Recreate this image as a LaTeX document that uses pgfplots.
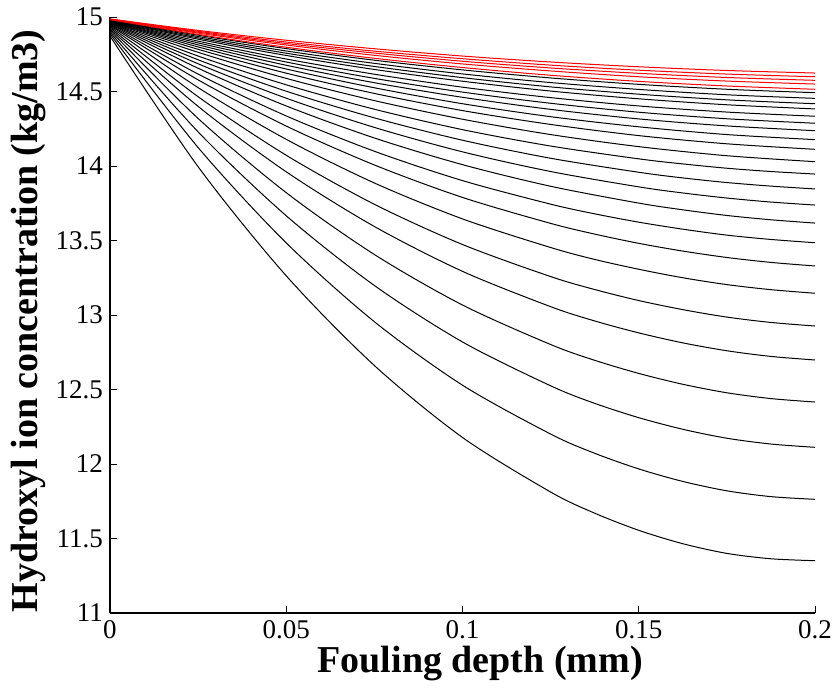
\documentclass[border=0pt]{standalone}
\usepackage{fontspec}
\setmainfont{Liberation Serif}
\usepackage{pgfplots}
\pgfplotsset{compat=1.18}
\begin{document}
\begin{tikzpicture}
\begin{axis}[
  scale only axis, width=352.5pt, height=298pt,
  xmin=0, xmax=0.2, ymin=11, ymax=15,
  axis x line*=bottom, axis y line*=left,
  axis line style={-, line width=0.6pt},
  xtick={0,0.05,0.1,0.15,0.2}, xticklabels={0,0.05,0.1,0.15,0.2},
  ytick={11,11.5,12,12.5,13,13.5,14,14.5,15},
  yticklabels={11,11.5,12,12.5,13,13.5,14,14.5,15},
  tick align=inside, major tick length=3.5pt,
  tick style={line width=0.5pt, black},
  ticklabel style={font=\fontsize{13.5}{15}\selectfont},
  xlabel={Fouling depth (mm)},
  ylabel={Hydroxyl ion concentration (kg/m3)},
  label style={font=\fontsize{19}{22}\selectfont\bfseries},
  xlabel style={at={(axis description cs:0.525,-0.084)}, anchor=center},
  ylabel style={at={(axis description cs:-0.116,0.49)}, anchor=center},
  every axis plot/.append style={line width=0.5pt, no marks, smooth},
]
% black curves
\addplot[black] coordinates {(0,14.982)(0.025,14.878)(0.05,14.788)(0.075,14.710)(0.1,14.645)(0.125,14.591)(0.15,14.548)(0.175,14.515)(0.2,14.492)};
\addplot[black] coordinates {(0,14.981)(0.025,14.869)(0.05,14.772)(0.075,14.689)(0.1,14.618)(0.125,14.560)(0.15,14.514)(0.175,14.478)(0.2,14.454)};
\addplot[black] coordinates {(0,14.980)(0.025,14.860)(0.05,14.757)(0.075,14.668)(0.1,14.593)(0.125,14.531)(0.15,14.482)(0.175,14.444)(0.2,14.418)};
\addplot[black] coordinates {(0,14.978)(0.025,14.851)(0.05,14.742)(0.075,14.648)(0.1,14.569)(0.125,14.503)(0.15,14.451)(0.175,14.411)(0.2,14.383)};
\addplot[black] coordinates {(0,14.977)(0.025,14.838)(0.05,14.718)(0.075,14.616)(0.1,14.529)(0.125,14.459)(0.15,14.403)(0.175,14.362)(0.2,14.334)};
\addplot[black] coordinates {(0,14.975)(0.025,14.826)(0.05,14.698)(0.075,14.588)(0.1,14.496)(0.125,14.421)(0.15,14.361)(0.175,14.317)(0.2,14.287)};
\addplot[black] coordinates {(0,14.973)(0.025,14.813)(0.05,14.676)(0.075,14.559)(0.1,14.461)(0.125,14.380)(0.15,14.316)(0.175,14.269)(0.2,14.237)};
\addplot[black] coordinates {(0,14.971)(0.025,14.799)(0.05,14.651)(0.075,14.525)(0.1,14.418)(0.125,14.331)(0.15,14.263)(0.175,14.211)(0.2,14.177)};
\addplot[black] coordinates {(0,14.969)(0.025,14.783)(0.05,14.623)(0.075,14.487)(0.1,14.372)(0.125,14.279)(0.15,14.204)(0.175,14.149)(0.2,14.112)};
\addplot[black] coordinates {(0,14.966)(0.025,14.763)(0.05,14.588)(0.075,14.439)(0.1,14.314)(0.125,14.211)(0.15,14.130)(0.175,14.069)(0.2,14.029)};
\addplot[black] coordinates {(0,14.963)(0.025,14.738)(0.05,14.545)(0.075,14.381)(0.1,14.244)(0.125,14.134)(0.15,14.048)(0.1625,14.014)(0.175,13.985)(0.1875,13.963)(0.2,13.946)};
\addplot[black] coordinates {(0,14.960)(0.025,14.713)(0.05,14.502)(0.075,14.323)(0.1,14.173)(0.125,14.052)(0.15,13.958)(0.1625,13.920)(0.175,13.889)(0.1875,13.865)(0.2,13.846)};
\addplot[black] coordinates {(0,14.956)(0.025,14.686)(0.05,14.455)(0.075,14.259)(0.1,14.095)(0.125,13.963)(0.15,13.860)(0.1625,13.819)(0.175,13.785)(0.1875,13.758)(0.2,13.738)};
\addplot[black] coordinates {(0,14.952)(0.025,14.656)(0.05,14.403)(0.075,14.188)(0.1,14.009)(0.125,13.864)(0.15,13.751)(0.1625,13.706)(0.175,13.668)(0.1875,13.639)(0.2,13.617)};
\addplot[black] coordinates {(0,14.947)(0.025,14.617)(0.05,14.336)(0.075,14.099)(0.1,13.902)(0.125,13.744)(0.1375,13.679)(0.15,13.623)(0.1625,13.576)(0.175,13.536)(0.1875,13.507)(0.2,13.485)};
\addplot[black] coordinates {(0,14.942)(0.025,14.578)(0.05,14.268)(0.075,14.007)(0.1,13.789)(0.125,13.615)(0.1375,13.543)(0.15,13.481)(0.1625,13.429)(0.175,13.386)(0.1875,13.353)(0.2,13.329)};
\addplot[black] coordinates {(0,14.935)(0.025,14.526)(0.05,14.179)(0.075,13.886)(0.1,13.645)(0.125,13.453)(0.1375,13.373)(0.15,13.307)(0.1625,13.250)(0.175,13.204)(0.1875,13.170)(0.2,13.146)};
\addplot[black] coordinates {(0,14.927)(0.025,14.465)(0.05,14.072)(0.075,13.743)(0.1,13.473)(0.125,13.258)(0.1375,13.171)(0.15,13.097)(0.1625,13.036)(0.175,12.986)(0.1875,12.950)(0.2,12.926)};
\addplot[black] coordinates {(0,14.919)(0.025,14.400)(0.05,13.961)(0.075,13.594)(0.1,13.293)(0.125,13.056)(0.1375,12.960)(0.15,12.880)(0.1625,12.813)(0.175,12.760)(0.1875,12.722)(0.2,12.698)};
\addplot[black] coordinates {(0,14.910)(0.025,14.319)(0.05,13.821)(0.075,13.406)(0.1,13.067)(0.125,12.802)(0.1375,12.696)(0.15,12.608)(0.1625,12.535)(0.175,12.478)(0.1875,12.439)(0.2,12.416)};
\addplot[black] coordinates {(0,14.899)(0.025,14.229)(0.05,13.666)(0.075,13.198)(0.1,12.819)(0.125,12.525)(0.1375,12.407)(0.15,12.311)(0.1625,12.233)(0.175,12.173)(0.1875,12.134)(0.2,12.112)};
\addplot[black] coordinates {(0,14.887)(0.025,14.124)(0.05,13.484)(0.075,12.955)(0.1,12.529)(0.125,12.201)(0.1375,12.072)(0.15,11.967)(0.1625,11.883)(0.175,11.820)(0.1875,11.781)(0.2,11.763)};
\addplot[black] coordinates {(0,14.872)(0.025,13.995)(0.05,13.263)(0.075,12.661)(0.1,12.178)(0.125,11.812)(0.1375,11.670)(0.15,11.555)(0.1625,11.465)(0.175,11.400)(0.1875,11.364)(0.2,11.351)};
% red curves
\addplot[red] coordinates {(0,14.987)(0.025,14.910)(0.05,14.844)(0.075,14.787)(0.1,14.738)(0.125,14.698)(0.15,14.666)(0.175,14.641)(0.2,14.624)};
\addplot[red] coordinates {(0,14.986)(0.025,14.904)(0.05,14.832)(0.075,14.771)(0.1,14.720)(0.125,14.677)(0.15,14.643)(0.175,14.617)(0.2,14.599)};
\addplot[red] coordinates {(0,14.985)(0.025,14.898)(0.05,14.822)(0.075,14.758)(0.1,14.703)(0.125,14.658)(0.15,14.622)(0.175,14.594)(0.2,14.575)};
\addplot[red] coordinates {(0,14.984)(0.025,14.892)(0.05,14.812)(0.075,14.743)(0.1,14.685)(0.125,14.638)(0.15,14.599)(0.175,14.570)(0.2,14.550)};
\addplot[red] coordinates {(0,14.983)(0.025,14.883)(0.05,14.797)(0.075,14.723)(0.1,14.661)(0.125,14.609)(0.15,14.568)(0.175,14.537)(0.2,14.515)};
\coordinate (sw) at (rel axis cs:0,0);
\end{axis}
\pgfresetboundingbox
\path[use as bounding box] ([xshift=-55pt,yshift=-39.5pt]sw) rectangle ([xshift=363pt,yshift=306.5pt]sw);
\end{tikzpicture}
\end{document}
